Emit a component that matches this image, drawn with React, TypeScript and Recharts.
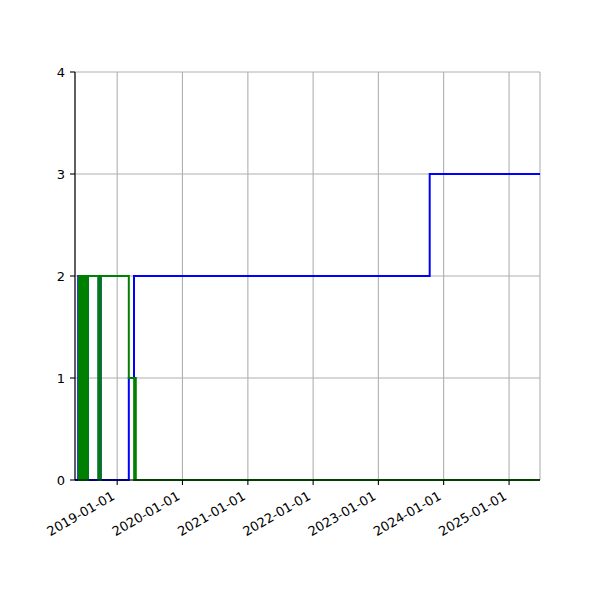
import React from 'react';
import { LineChart, Line, XAxis, YAxis, CartesianGrid } from 'recharts';

const xTickLabels = ['2019-01-01', '2020-01-01', '2021-01-01', '2022-01-01', '2023-01-01', '2024-01-01', '2025-01-01'];
const yTicks = [0, 1, 2, 3, 4];
const xDomainLabels = ['2018-05-10', '2025-06-23'];

const blueDates = [
  '2018-05-10', '2018-05-28', '2018-07-21', '2018-09-19', '2018-10-01',
  '2019-03-07', '2019-04-05', '2023-10-15', '2025-06-23',
];
const blueValues = [0, 2, 0, 2, 0, 1, 2, 3, 3];

const greenDates = [
  '2018-05-29', '2018-06-01', '2018-06-03', '2018-06-05', '2018-06-07', '2018-06-10',
  '2018-06-12', '2018-06-15', '2018-06-17', '2018-06-20', '2018-06-22', '2018-06-25',
  '2018-06-27', '2018-06-30', '2018-07-02', '2018-07-05', '2018-07-07', '2018-07-10',
  '2018-07-12', '2018-07-15', '2018-07-17', '2018-07-20', '2018-07-21',
  '2018-09-18', '2018-09-30', '2019-03-07', '2019-04-06', '2019-04-13', '2019-04-15',
  '2025-06-23',
];
const greenValues = [
  2, 0, 2, 0, 2, 0,
  2, 0, 2, 0, 2, 0,
  2, 0, 2, 0, 2, 0,
  2, 0, 2, 0, 2,
  0, 2, 1, 0, 1, 0,
  0,
];

const toTime = (s: string) => Date.parse(s + 'T00:00:00Z');
const fmt = (t: number) => new Date(t).toISOString().slice(0, 10);

const blueData = blueDates.map((d, i) => ({ t: toTime(d), v: blueValues[i] }));
const greenData = greenDates.map((d, i) => ({ t: toTime(d), v: greenValues[i] }));
const xTicks = xTickLabels.map(toTime);
const xDomain = xDomainLabels.map(toTime);

const FONT = 'DejaVu Sans';

const XTick = (props: any) => {
  const { x, y, payload } = props;
  const ax = x - 1.5;
  const ay = y + 8.7;
  return (
    <text
      x={ax}
      y={ay}
      textAnchor="end"
      transform={`rotate(-30, ${ax}, ${ay})`}
      fontSize={13}
      fontFamily={FONT}
      fill="#000"
    >
      {fmt(payload.value)}
    </text>
  );
};

export default function App() {
  return (
    <div style={{ width: 600, height: 600, fontFamily: FONT }}>
      <LineChart width={600} height={600} margin={{ top: 64, right: 68, left: 0, bottom: 68 }}>
        <CartesianGrid stroke="#b0b0b0" strokeWidth={1.1} />
        <XAxis
          dataKey="t"
          type="number"
          domain={xDomain}
          ticks={xTicks}
          allowDataOverflow
          height={60}
          stroke="#000"
          strokeWidth={1.1}
          tickSize={5}
          tickMargin={5}
          tick={<XTick />}
          interval={0}
        />
        <XAxis
          xAxisId="top"
          orientation="top"
          dataKey="t"
          type="number"
          domain={xDomain}
          height={0}
          tick={false}
          tickLine={false}
          stroke="#000"
          strokeWidth={1.1}
        />
        <YAxis
          type="number"
          domain={[0, 4]}
          ticks={yTicks}
          width={67}
          stroke="#000"
          strokeWidth={1.1}
          tickSize={5}
          tickMargin={5}
          tick={{ fill: '#000', fontSize: 13, fontFamily: FONT }}
          interval={0}
        />
        <YAxis
          yAxisId="right"
          orientation="right"
          type="number"
          domain={[0, 4]}
          width={0}
          tick={false}
          tickLine={false}
          stroke="#000"
          strokeWidth={1.1}
        />
        <Line
          data={blueData}
          dataKey="v"
          type="stepAfter"
          stroke="#0000ff"
          strokeWidth={2}
          dot={false}
          activeDot={false}
          isAnimationActive={false}
        />
        <Line
          data={greenData}
          dataKey="v"
          type="stepAfter"
          stroke="#008000"
          strokeWidth={2}
          dot={false}
          activeDot={false}
          isAnimationActive={false}
        />
      </LineChart>
    </div>
  );
}
